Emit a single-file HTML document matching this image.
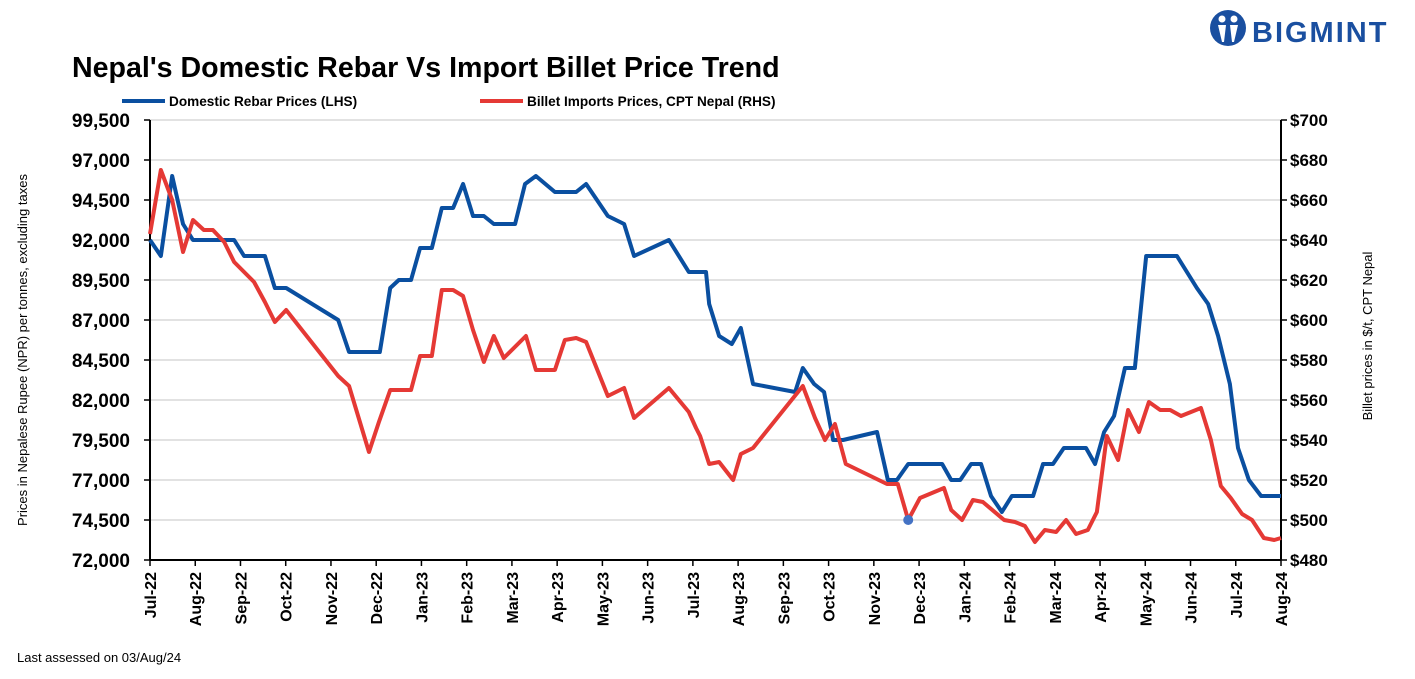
<!DOCTYPE html>
<html><head><meta charset="utf-8"><style>
body{margin:0;background:#fff;font-family:"Liberation Sans",sans-serif}
svg text{font-family:"Liberation Sans",sans-serif}
</style></head><body>
<svg id="c" width="1415" height="674" xmlns="http://www.w3.org/2000/svg">
<text x="72" y="77" font-size="28.6" font-weight="bold" fill="#000">Nepal's Domestic Rebar Vs Import Billet Price Trend</text>
<g>
<circle cx="1228" cy="28" r="18" fill="#1a4fa0"/>
<circle cx="1222" cy="19" r="3.5" fill="#fff"/><circle cx="1234" cy="19" r="3.5" fill="#fff"/>
<path d="M1218 25 L1226 25 L1224 42 L1222 42 Z M1230 25 L1238 25 L1234 42 L1232 42 Z" fill="#fff"/>
<text x="1252" y="42" font-size="29" font-weight="bold" fill="#1a4fa0" letter-spacing="2">BIGMINT</text>
</g>
<g>
<line x1="122" y1="101" x2="165" y2="101" stroke="#0a4fa0" stroke-width="4"/>
<text x="169" y="106" font-size="13.6" font-weight="bold">Domestic Rebar Prices (LHS)</text>
<line x1="480" y1="101" x2="523" y2="101" stroke="#e53935" stroke-width="4"/>
<text x="527" y="106" font-size="13.6" font-weight="bold">Billet Imports Prices, CPT Nepal (RHS)</text>
</g>
<g id="grid"></g><g id="axes"></g><g id="series"></g>
<text transform="translate(27,350) rotate(-90)" text-anchor="middle" font-size="13">Prices in Nepalese Rupee (NPR) per tonnes, excluding taxes</text>
<text transform="translate(1372,336) rotate(-90)" text-anchor="middle" font-size="13">Billet prices in $/t, CPT Nepal</text>
<text x="17" y="662" font-size="13">Last assessed on 03/Aug/24</text>
</svg>
<script>
const months=["Jul-22","Aug-22","Sep-22","Oct-22","Nov-22","Dec-22","Jan-23","Feb-23","Mar-23","Apr-23","May-23","Jun-23","Jul-23","Aug-23","Sep-23","Oct-23","Nov-23","Dec-23","Jan-24","Feb-24","Mar-24","Apr-24","May-24","Jun-24","Jul-24","Aug-24"];
const leftTicks=[72000,74500,77000,79500,82000,84500,87000,89500,92000,94500,97000,99500];
const rightTicks=[480,500,520,540,560,580,600,620,640,660,680,700];
const rebarT=[0,0.24,0.49,0.73,0.95,1.86,2.08,2.54,2.76,3.01,4.16,4.40,5.08,5.31,5.50,5.77,5.97,6.23,6.45,6.70,6.92,7.14,7.38,7.60,8.07,8.29,8.53,8.95,9.42,9.64,10.12,10.48,10.70,11.47,11.91,12.29,12.36,12.58,12.86,13.06,13.33,14.26,14.43,14.68,14.90,15.10,15.32,16.07,16.31,16.51,16.76,17.51,17.71,17.91,18.15,18.37,18.59,18.83,19.05,19.52,19.74,19.96,20.20,20.69,20.89,21.09,21.31,21.55,21.77,22.02,22.70,23.14,23.39,23.61,23.87,24.05,24.29,24.56,25];
const rebarV=[92000,91000,96000,93000,92000,92000,91000,91000,89000,89000,87000,85000,85000,89000,89500,89500,91500,91500,94000,94000,95500,93500,93500,93000,93000,95500,96000,95000,95000,95500,93500,93000,91000,92000,90000,90000,88000,86000,85500,86500,83000,82500,84000,83000,82500,79500,79500,80000,77000,77000,78000,78000,77000,77000,78000,78000,76000,75000,76000,76000,78000,78000,79000,79000,78000,80000,81000,84000,84000,91000,91000,89000,88000,86000,83000,79000,77000,76000,76000];
const billetT=[0,0.24,0.49,0.73,0.95,1.19,1.39,1.64,1.86,2.08,2.30,2.54,2.76,3.01,4.16,4.40,4.84,5.06,5.31,5.77,5.97,6.23,6.45,6.70,6.92,7.14,7.38,7.60,7.82,8.31,8.53,8.95,9.17,9.42,9.64,10.12,10.48,10.70,11.47,11.91,12.07,12.16,12.36,12.58,12.89,13.06,13.33,14.43,14.70,14.92,15.14,15.38,16.29,16.53,16.76,17.02,17.55,17.71,17.95,18.19,18.41,18.88,19.12,19.34,19.56,19.78,20.03,20.25,20.47,20.73,20.93,21.15,21.40,21.62,21.86,22.08,22.33,22.55,22.79,23.23,23.45,23.67,23.89,24.14,24.36,24.62,24.85,25];
const billetV=[643,675,660,634,650,645,645,639,629,624,619,609,599,605,572,567,534,549,565,565,582,582,615,615,612,595,579,592,581,592,575,575,590,591,589,562,566,551,566,554,546,542,528,529,520,533,536,567,551,540,548,528,518,518,500,511,516,505,500,510,509,500,499,497,489,495,494,500,493,495,504,542,530,555,544,559,555,555,552,556,540,517,511,503,500,491,490,491];
const markerIndex=54;
const NS="http://www.w3.org/2000/svg";
const X0=150,X1=1281,Y0=560,Y1=120;
const x=m=>X0+(X1-X0)*m/(months.length-1);
const yl=v=>Y0-(Y0-Y1)*(v-72000)/(99500-72000);
const yr=v=>Y0-(Y0-Y1)*(v-480)/(700-480);
function mk(tag,attrs,parent){const e=document.createElementNS(NS,tag);for(const k in attrs)e.setAttribute(k,attrs[k]);document.getElementById(parent).appendChild(e);return e;}
leftTicks.forEach((v,i)=>{
  if(i>0){const g=mk('line',{x1:X0,x2:X1,y1:yl(v),y2:yl(v),stroke:'#d9d9d9','stroke-width':1.5},'grid');
  
  }
  mk('line',{x1:X0-6,x2:X0,y1:yl(v),y2:yl(v),stroke:'#000','stroke-width':1.5},'axes');
  const t=mk('text',{x:X0-20,y:yl(v)+7,'text-anchor':'end','font-size':19,'font-weight':'bold'},'axes');
  t.textContent=v.toLocaleString('en-US');
  
  
});
rightTicks.forEach(v=>{
  mk('line',{x1:X1,x2:X1+6,y1:yr(v),y2:yr(v),stroke:'#000','stroke-width':1.5},'axes');
  const t=mk('text',{x:X1+9,y:yr(v)+6,'font-size':17,'font-weight':'bold'},'axes');
  t.textContent='$'+v;
  
  
});
months.forEach((m,i)=>{
  mk('line',{x1:x(i),x2:x(i),y1:Y0,y2:Y0+6,stroke:'#000','stroke-width':1.5},'axes');
  const t=mk('text',{transform:`translate(${x(i)+6},${Y0+12}) rotate(-90)`,'text-anchor':'end','font-size':16,'font-weight':'bold'},'axes');
  t.textContent=m;
  
  
});
const la=mk('line',{x1:X0,x2:X0,y1:Y1,y2:Y0,stroke:'#000','stroke-width':2},'axes');


const ra=mk('line',{x1:X1,x2:X1,y1:Y1,y2:Y0,stroke:'#000','stroke-width':2},'axes');


const ba=mk('line',{x1:X0,x2:X1,y1:Y0,y2:Y0,stroke:'#000','stroke-width':2},'axes');


const p1=mk('polyline',{points:rebarT.map((t,i)=>x(t)+','+yl(rebarV[i])).join(' '),fill:'none',stroke:'#0a4fa0','stroke-width':4,'stroke-linejoin':'round'},'series');


const p2=mk('polyline',{points:billetT.map((t,i)=>x(t)+','+yr(billetV[i])).join(' '),fill:'none',stroke:'#e53935','stroke-width':4,'stroke-linejoin':'round'},'series');


const dot=mk('circle',{cx:x(billetT[markerIndex]),cy:yr(billetV[markerIndex]),r:5,fill:'#4472c4'},'series');


</script>
</body></html>
